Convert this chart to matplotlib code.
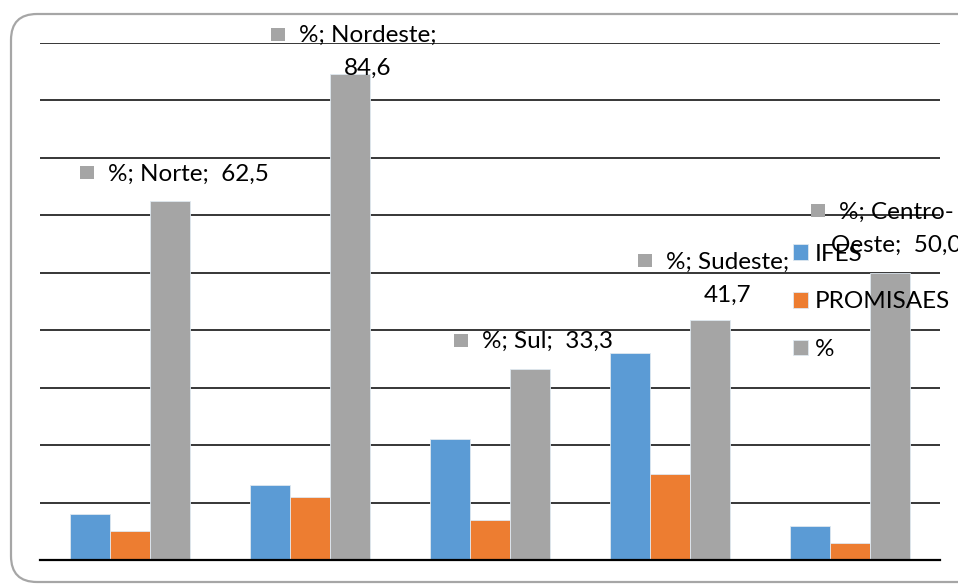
import numpy as np
import matplotlib
matplotlib.use('Agg')
import matplotlib.pyplot as plt
from matplotlib.patches import FancyBboxPatch, Rectangle

# dados
regioes = ['Norte', 'Nordeste', 'Sul', 'Sudeste', 'Centro-Oeste']
ifes = [8, 13, 21, 36, 6]
promisaes = [5, 11, 7, 15, 3]
pct = [62.5, 84.6, 33.3, 41.7, 50.0]
series = ['IFES', 'PROMISAES', '%']

# estilo
cores = ['#5B9BD5', '#ED7D31', '#A5A5A5']
fonte = 'Lato'
tam = 17.5
# quebra de linha de cada rótulo e deslocamento (px) do bloco em relação ao topo da barra
quebras = ['', 'Nordeste;  ', '', 'Sudeste;  ', 'Centro-']
desloc = [(18, 27), (18, 22), (18, 27), (18, 42), (6, 44)]

W, H, DPI = 958, 584, 100
fig = plt.figure(figsize=(W / DPI, H / DPI), dpi=DPI)
ax = fig.add_axes([40 / W, 24 / H, 900 / W, 517 / H])

x = np.arange(len(regioes))
w = 0.2222
for k, vals in enumerate([ifes, promisaes, pct]):
    ax.bar(x + (k - 1) * w, vals, w, color=cores[k], edgecolor='#dfe8f0',
           linewidth=0.6, label=series[k], zorder=3)

ax.set_xlim(-0.5, len(regioes) - 0.5)
ax.set_ylim(0, 90)
ax.set_yticks(np.arange(0, 91, 10))
ax.set_xticks([])
ax.yaxis.grid(True, color='black', linewidth=1.1, zorder=0)
ax.tick_params(left=False, labelleft=False)
for s in ['top', 'right', 'left']:
    ax.spines[s].set_visible(False)
ax.spines['bottom'].set_linewidth(1.6)
ax.spines['bottom'].set_zorder(4)


def fmt(v):
    return f'{v:.1f}'.replace('.', ',')


# rótulos de dados da série %
linhas_txt = []
for i, (r, v) in enumerate(zip(regioes, pct)):
    texto = f'%; {r};  {fmt(v)}'
    if quebras[i]:
        texto = texto.replace(quebras[i], quebras[i].rstrip() + '\n')
    linhas = texto.split('\n')
    n = len(linhas)
    dx, dy = desloc[i]
    sp = 33
    objs = []
    for j, ln in enumerate(linhas):
        t = ax.annotate(ln, xy=(x[i] + w, v), xytext=(dx, dy + (n - 1) / 2 * sp - j * sp),
                        textcoords='offset pixels', ha='center', va='center',
                        fontsize=tam, family=fonte, color='black', zorder=5,
                        annotation_clip=False)
        objs.append(t)
    linhas_txt.append(objs[0])

leg = fig.legend(loc='center left', bbox_to_anchor=(793 / W, 1 - 302 / H),
                 frameon=False, prop={'family': fonte, 'size': tam},
                 handlelength=0.6, handleheight=0.6, handletextpad=0.3,
                 labelspacing=1.1, borderpad=0, borderaxespad=0)

fig.canvas.draw()
r = fig.canvas.get_renderer()
for t in linhas_txt:
    bb = t.get_window_extent(r)
    cy = (bb.y0 + bb.y1) / 2 + 2
    fig.patches.append(Rectangle((bb.x0 - 28, cy - 7), 14, 13, transform=None,
                                 facecolor=cores[2], edgecolor='none', zorder=6))

borda = FancyBboxPatch((11, 2), 980, H - 16, boxstyle='round,pad=0,rounding_size=26',
                       transform=None, facecolor='none', edgecolor='#a6a6a6',
                       linewidth=1.6)
fig.patches.append(borda)

fig.savefig('out.png', dpi=DPI)
